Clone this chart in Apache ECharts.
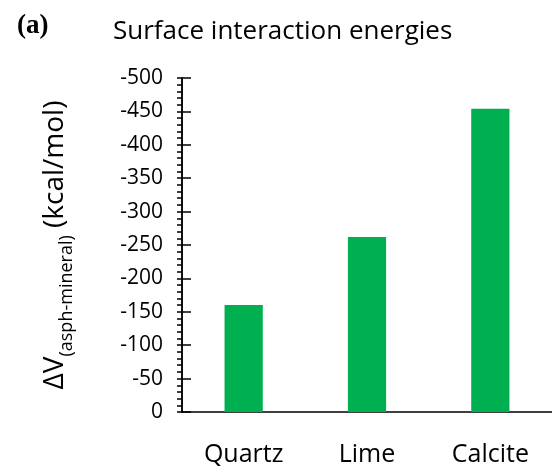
<!DOCTYPE html>
<html>
<head>
<meta charset="utf-8">
<script src="https://cdn.jsdelivr.net/npm/echarts@6/dist/echarts.min.js"></script>
<style>
  html, body { margin: 0; padding: 0; background: #fff; }
  #chart { width: 552px; height: 472px; }
</style>
</head>
<body>
<div id="chart"></div>
<script>
// Interaction energy of the asphaltene with each mineral surface (kcal/mol)
const minerals = ['Quartz', 'Lime', 'Calcite'];
const energies = [-160, -262, -454];
const yMin = -500;
const yMax = 0;
const yStep = 50;

const font = '"Open Sans", Lato, sans-serif';
const chart = echarts.init(document.getElementById('chart'));

const baseY = {
  type: 'value',
  min: yMin,
  max: yMax,
  interval: yStep,
  inverse: true,
  splitLine: { show: false },
  axisLine: { show: true, lineStyle: { color: '#000', width: 1.5 } }
};

chart.setOption({
  animation: false,
  title: [
    {
      text: '(a)', left: 12, top: 8,
      textStyle: { fontFamily: '"Liberation Serif", "DejaVu Serif", serif', fontWeight: 'bold', fontSize: 27, color: '#000' }
    },
    {
      text: 'Surface interaction energies', left: 108, top: 14,
      textStyle: { fontFamily: font, fontWeight: 'normal', fontSize: 26, color: '#000' }
    }
  ],
  grid: { left: 182, right: -6, top: 78, bottom: 60 },
  xAxis: {
    type: 'category',
    data: minerals,
    axisTick: { show: false },
    axisLine: { lineStyle: { color: '#000', width: 1.5 } },
    axisLabel: { color: '#000', fontFamily: font, fontSize: 25, margin: 30 }
  },
  yAxis: [
    Object.assign({}, baseY, {
      axisTick: { show: true, length: 5, lineStyle: { color: '#000', width: 1.5 } },
      minorTick: { show: true, splitNumber: 5, length: 5, lineStyle: { color: '#000', width: 1.5 } },
      axisLabel: { color: '#000', fontFamily: font, fontSize: 21, margin: 19 },
      name: '{m|ΔV}{s|(asph-mineral)}{m| (kcal/mol)}',
      nameLocation: 'middle',
      nameRotate: 90,
      nameGap: 113,
      nameTextStyle: {
        rich: {
          m: { fontFamily: font, fontSize: 28, color: '#000', verticalAlign: 'bottom', lineHeight: 36 },
          s: { fontFamily: font, fontSize: 18, color: '#000', verticalAlign: 'bottom', lineHeight: 36, padding: [0, 0, -7, 0] }
        }
      }
    }),
    Object.assign({}, baseY, {
      position: 'left',
      axisTick: { show: true, inside: true, length: 9, lineStyle: { color: '#000', width: 1.5 } },
      axisLabel: { show: false }
    })
  ],
  series: [{
    type: 'bar',
    data: energies,
    barWidth: '31%',
    itemStyle: { color: '#00B050' }
  }]
});
</script>
</body>
</html>
